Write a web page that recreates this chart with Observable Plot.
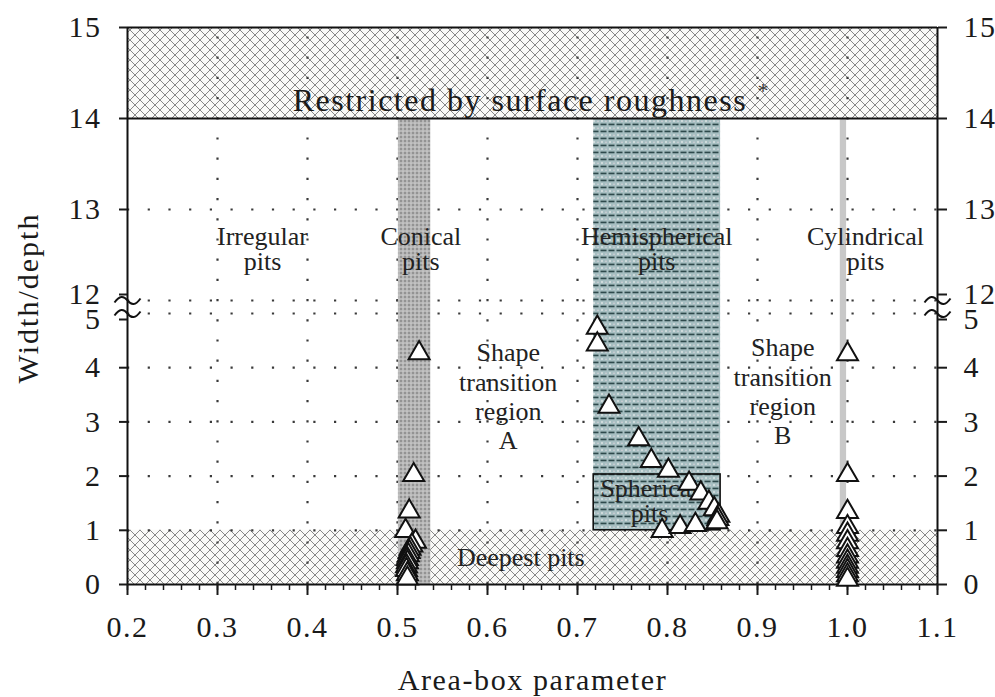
<!DOCTYPE html>
<html><head><meta charset="utf-8">
<script src="https://cdn.jsdelivr.net/npm/d3@7"></script>
<script src="https://cdn.jsdelivr.net/npm/@observablehq/plot@0.6"></script>
<style>body{margin:0;background:#fff}</style>
</head><body><div id="chart"></div>
<script>
// ---------- data ----------
const conicalArea  = [0.524, 0.518, 0.513, 0.509, 0.520, 0.516, 0.514, 0.513, 0.512, 0.511, 0.511, 0.510, 0.510, 0.511, 0.511];
const conicalRatio = [4.27, 2.02, 1.35, 0.99, 0.79, 0.72, 0.66, 0.60, 0.54, 0.47, 0.41, 0.34, 0.27, 0.19, 0.11];

const hemiArea  = [0.722, 0.722, 0.735, 0.768, 0.782, 0.801, 0.824, 0.837, 0.846, 0.852, 0.857, 0.856, 0.855, 0.794, 0.814, 0.831];
const hemiRatio = [4.74, 4.43, 3.28, 2.68, 2.28, 2.10, 1.86, 1.68, 1.51, 1.39, 1.27, 1.21, 1.15, 0.99, 1.06, 1.10];

const cylArea  = [1.0, 1.0, 1.0, 1.0, 1.0, 1.0, 1.0, 1.0, 1.0, 1.0, 1.0, 1.0, 1.0];
const cylRatio = [4.25, 2.02, 1.34, 1.06, 0.92, 0.78, 0.64, 0.52, 0.42, 0.33, 0.25, 0.17, 0.09];

const xTicks = [0.2, 0.3, 0.4, 0.5, 0.6, 0.7, 0.8, 0.9, 1.0, 1.1];
const xMinor = d3.range(20, 111, 2).map(d => d / 100);
const yTicksLow  = [0, 1, 2, 3, 4];
const yTickFive  = [5];
const yTickTwelve = [12];
const yTicksHigh = [13, 14, 15];
const gridX = [0.3, 0.4, 0.5, 0.6, 0.7, 0.8, 0.9, 1.0];
const gridY = [1, 2, 3, 4, 5, 12, 13];

// shaded regions (area-box parameter, width/depth)
const restricted = [{x1: 0.2, x2: 1.1, y1: 14, y2: 15}];
const deepest    = [{x1: 0.2, x2: 1.1, y1: 0,  y2: 1}];
const conicalBand = [{x1: 0.501, x2: 0.537, y1: 0, y2: 14}];
const hemiBand    = [{x1: 0.718, x2: 0.859, y1: 1, y2: 14}];
const cylBand     = [{x1: 0.992, x2: 0.999, y1: 0, y2: 14}];
const sphericalBox = [{x1: 0.718, x2: 0.859, y1: 1, y2: 2.03}];

const pitLabels = [
  {x: 0.350, y: 12.56, text: "Irregular\npits"},
  {x: 0.526, y: 12.56, text: "Conical\npits"},
  {x: 0.788, y: 12.56, text: "Hemispherical\npits"},
  {x: 1.020, y: 12.56, text: "Cylindrical\npits"},
  {x: 0.780, y: 1.53,  text: "Spherical\npits"}
];
const transLabels = [
  {x: 0.623, y: 3.48, text: "Shape\ntransition\nregion\nA"},
  {x: 0.928, y: 3.57, text: "Shape\ntransition\nregion\nB"}
];
const deepLabel = [{x: 0.637, y: 0.50, text: "Deepest pits"}];
const restrictedLabel = [{x: 0.636, y: 14.2, text: "Restricted by surface roughness"}];
const starLabel = [{x: 0.906, y: 14.3, text: "*"}];
const xTitle = "Area-box parameter";
const yTitle = "Width/depth";
const breakX = [0.2, 1.1];
const breakY = [12, 5];

// ---------- broken y axis: 0–5 and 12–15 ----------
const f = v => v <= 5 ? v : 5 + 0.24 + (v - 12) * 1.679;

const pits = [
  ...conicalArea.map((x, i) => ({x, y: conicalRatio[i]})),
  ...hemiArea.map((x, i) => ({x, y: hemiRatio[i]})),
  ...cylArea.map((x, i) => ({x, y: cylRatio[i]}))
];
const breaks = breakX.flatMap(x => breakY.map(y => ({x, y})));

// axis-break glyph (a flat tilde) as a custom symbol
const squiggle = {
  draw(context) {
    context.moveTo(-13, 2);
    context.bezierCurveTo(-8, -5, -4, -5, 0, 0);
    context.bezierCurveTo(4, 5, 8, 5, 13, -2);
  }
};

const rectOpts = (fill, extra = {}) => ({x1: "x1", x2: "x2", y1: d => f(d.y1), y2: d => f(d.y2), fill, ...extra});

const yAxes = (ticks, dy) => {
  const pos = ticks.map(f);
  const fmt = d => { const i = pos.findIndex(p => Math.abs(p - d) < 1e-6); return i < 0 ? "" : String(ticks[i]); };
  return [
    Plot.axisY(pos, {anchor: "left", tickSize: 8, tickPadding: 18, tickFormat: fmt, strokeWidth: 2, label: null, dy}),
    Plot.axisY(pos, {anchor: "right", tickSize: 9, tickPadding: 17, tickFormat: fmt, strokeWidth: 2, label: null, dy})
  ];
};

const svg = Plot.plot({
  width: 995, height: 697,
  marginLeft: 127, marginRight: 58, marginTop: 27, marginBottom: 113,
  style: {fontFamily: "'Liberation Serif', 'Times New Roman', serif", fontSize: "30px", color: "#1a1a1a", background: "white"},
  x: {domain: [0.2, 1.1]},
  y: {domain: [0, f(15)]},
  marks: [
    Plot.rect(restricted, rectOpts("url(#xhatch)")),
    Plot.rect(deepest, rectOpts("url(#xhatch)")),
    Plot.ruleY(gridY.map(f), {stroke: "#3a3a3a", strokeWidth: 2.2, strokeDasharray: "2.2,18.5"}),
    Plot.ruleX(gridX, {y1: 0, y2: f(15), stroke: "#3a3a3a", strokeWidth: 2.2, strokeDasharray: "2.2,18"}),
    Plot.rect(conicalBand, rectOpts("url(#conical)")),
    Plot.rect(hemiBand, rectOpts("url(#hemi)")),
    Plot.rect(cylBand, rectOpts("#c8c8c8")),
    Plot.rect(sphericalBox, rectOpts("url(#hemi)", {stroke: "#111", strokeWidth: 1.6})),
    Plot.ruleY([f(14), f(15)], {x1: 0.2, x2: 1.1, stroke: "#111", strokeWidth: 2}),
    Plot.ruleY([0], {x1: 0.2, x2: 1.1, stroke: "#111", strokeWidth: 2}),
    Plot.ruleX(breakX, {y1: 0, y2: f(15), stroke: "#111", strokeWidth: 2}),
    Plot.axisX(xMinor, {anchor: "bottom", tickSize: 6, tickFormat: () => "", strokeWidth: 1.5, label: null}),
    Plot.axisX(xTicks, {anchor: "bottom", tickSize: 11, tickPadding: 20, tickFormat: d => d.toFixed(1), strokeWidth: 2, label: null}),
    ...yAxes(yTicksLow, 0),
    ...yAxes(yTickFive, 6),
    ...yAxes(yTickTwelve, -6),
    ...yAxes(yTicksHigh, 0),
    Plot.dot(breaks, {x: "x", y: d => f(d.y), symbol: squiggle, r: 10, fill: "none", stroke: "#111", strokeWidth: 2}),
    Plot.text(pitLabels, {x: "x", y: d => f(d.y), text: "text", fontSize: 26, lineHeight: 0.96, lineAnchor: "middle", fill: "#222"}),
    Plot.text(transLabels, {x: "x", y: d => f(d.y), text: "text", fontSize: 26, lineHeight: 1.13, lineAnchor: "middle", fill: "#222"}),
    Plot.text(deepLabel, {x: "x", y: d => f(d.y), text: "text", fontSize: 26, lineAnchor: "middle", fill: "#222"}),
    Plot.text(restrictedLabel, {x: "x", y: d => f(d.y), text: "text", fontSize: 32, lineAnchor: "middle", fill: "#1a1a1a"}),
    Plot.text(starLabel, {x: "x", y: d => f(d.y), text: "text", fontSize: 22, lineAnchor: "middle", fill: "#333"}),
    Plot.dot(pits, {x: "x", y: d => f(d.y), symbol: "triangle", r: 7.8, fill: "white", stroke: "#111", strokeWidth: 2}),
    Plot.text([xTitle], {frameAnchor: "bottom", textAnchor: "middle", lineAnchor: "middle", dy: 96, fontSize: 30, fill: "#1a1a1a"}),
    Plot.text([yTitle], {frameAnchor: "left", textAnchor: "middle", lineAnchor: "middle", rotate: -90, dx: -99, dy: -8, fontSize: 30, fill: "#1a1a1a"})
  ]
});

// the reference typeface is a little wider than Liberation Serif
const sel = d3.select(svg);
const spacing = {[restrictedLabel[0].text]: "1.5px", [xTitle]: "1.6px", [yTitle]: "2px"};
sel.selectAll("text").each(function() {
  const s = spacing[this.textContent];
  if (s) d3.select(this).style("letter-spacing", s);
});
sel.selectAll("g[aria-label$='tick label'] text").style("letter-spacing", "1.5px");

// ---------- fill patterns ----------
const defs = sel.insert("defs", ":first-child");
const xh = defs.append("pattern").attr("id", "xhatch").attr("patternUnits", "userSpaceOnUse").attr("width", 10).attr("height", 10);
xh.append("rect").attr("width", 10).attr("height", 10).attr("fill", "#f9f9f7");
xh.append("path").attr("d", "M0,0L10,10M10,0L0,10M-1,1L1,-1M9,11L11,9M-1,9L1,11M9,-1L11,1").attr("stroke", "#7a7a7a").attr("stroke-width", 0.9).attr("fill", "none");

const co = defs.append("pattern").attr("id", "conical").attr("patternUnits", "userSpaceOnUse").attr("width", 4).attr("height", 4);
co.append("rect").attr("width", 4).attr("height", 4).attr("fill", "#b6b6b6");
co.append("circle").attr("cx", 1).attr("cy", 1).attr("r", 0.7).attr("fill", "#555");
co.append("circle").attr("cx", 3).attr("cy", 3).attr("r", 0.6).attr("fill", "#e6e6e6");

const he = defs.append("pattern").attr("id", "hemi").attr("patternUnits", "userSpaceOnUse").attr("width", 8).attr("height", 7);
he.append("rect").attr("width", 8).attr("height", 7).attr("fill", "#a6bec1");
he.append("rect").attr("x", 0.5).attr("y", 4.6).attr("width", 6).attr("height", 1.7).attr("fill", "#2e4a4c");
he.append("circle").attr("cx", 2).attr("cy", 2).attr("r", 0.9).attr("fill", "#f4f4f4").attr("opacity", 0.75);
he.append("circle").attr("cx", 6).attr("cy", 2.2).attr("r", 0.8).attr("fill", "#ead8e2").attr("opacity", 0.75);

document.getElementById("chart").appendChild(svg);
</script>
</body></html>
